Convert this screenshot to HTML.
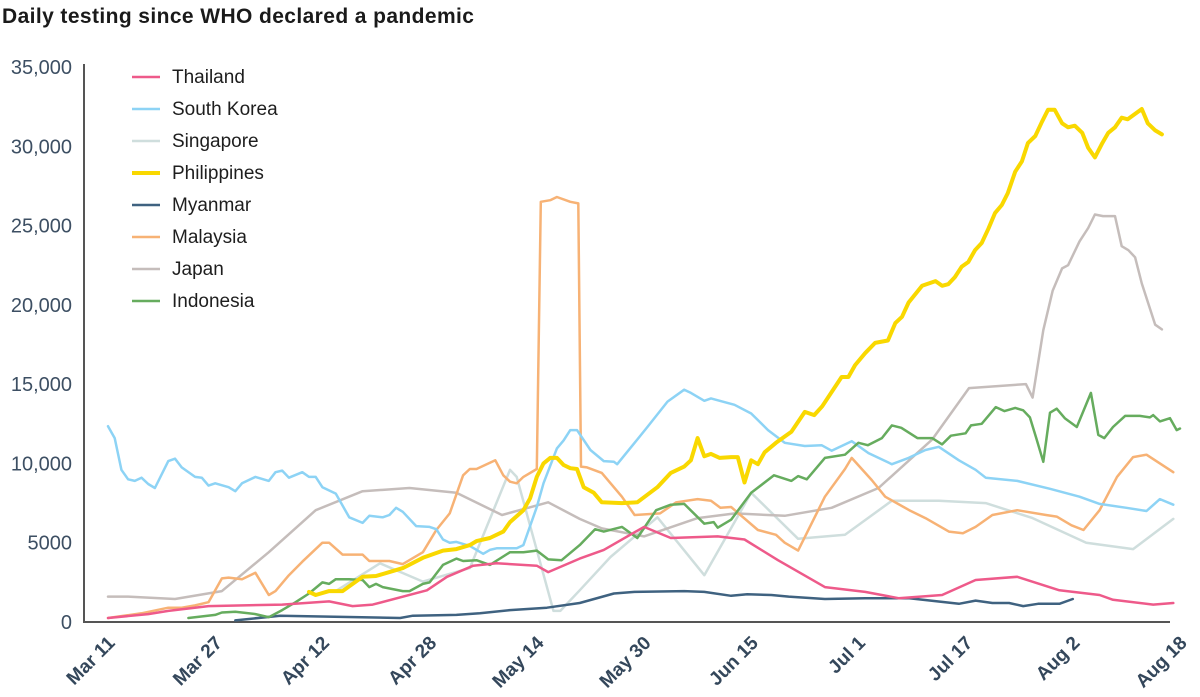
<!DOCTYPE html>
<html><head><meta charset="utf-8"><style>
body{margin:0;background:#fff;width:1200px;height:697px;overflow:hidden;font-family:"Liberation Sans",sans-serif}
svg{display:block}
</style></head><body>
<svg id="chart" width="1200" height="697">
<text x="2" y="23" font-size="21" font-weight="bold" fill="#1a1a1a" letter-spacing="0.4">Daily testing since WHO declared a pandemic</text>
<g id="axes"></g><g id="lines"></g><g id="legend"></g>
</svg>
<script>
const yTicks=[0,5000,10000,15000,20000,25000,30000,35000];
const yTickLabels=["0","5000","10,000","15,000","20,000","25,000","30,000","35,000"];
const xTickDays=[0,16,32,48,64,80,96,112,128,144,160];
const xTickLabels=["Mar 11","Mar 27","Apr 12","Apr 28","May 14","May 30","Jun 15","Jul 1","Jul 17","Aug 2","Aug 18"];
const seriesNames=["Thailand","South Korea","Singapore","Philippines","Myanmar","Malaysia","Japan","Indonesia"];
const seriesColors=["#ee5a8a","#8dd3f5","#cfdedd","#f9d800","#3f6280","#f7b275","#c5bdbb","#66ac5e"];

const thDays=[0,6,9,15,26,33,36.5,39.5,47.6,50.6,54.5,58,64,65.7,70.4,74,80,84,91,95,100,107,113,118,124.5,129.5,135.7,142,148,150,156,159];
const thVals=[250,500,700,1000,1100,1300,1000,1100,2000,2850,3550,3700,3550,3150,4000,4550,6000,5300,5400,5200,3900,2200,1900,1500,1700,2650,2850,2000,1700,1400,1100,1200];

const krDays=[0,1,2,3,4,5,6,7,9,10,11,13,14,15,16,18,19,20,22,24,25,26,27,29,30,31,32,34,36,38,39,41,42,43,44,46,48,49,50,51,52,54,56,57,58,61,62,64,65,67,68,69,70,72,74,75.5,76,78.6,80.5,83.5,86,87,89,90,93.5,96,98.5,101,104,106.5,108,111,113.5,117,119.5,122,124,127,129.5,131,135.7,140.6,145,148,152,155,157,159];
const krVals=[12350,11600,9600,9000,8900,9100,8700,8450,10150,10300,9750,9150,9100,8600,8750,8500,8250,8750,9150,8900,9450,9550,9100,9450,9150,9150,8500,8100,6600,6250,6700,6600,6750,7200,6950,6050,6000,5850,5200,5000,5050,4800,4300,4550,4650,4650,4850,7250,8750,10950,11450,12100,12100,10850,10150,10100,9950,11300,12300,13900,14650,14450,13950,14100,13700,13150,12100,11300,11100,11150,10800,11400,10650,9950,10350,10850,11050,10200,9600,9100,8900,8400,7900,7450,7200,7000,7750,7400];

const sgDays=[34,40.6,47,54,60,61,66.5,67.5,70.4,75,82,89,96,103,110,117,124,131,138,146,153,159];
const sgVals=[1950,3700,2550,3400,9600,9150,700,700,2000,4100,6600,2950,8150,5250,5500,7650,7650,7500,6550,5000,4600,6500];

const phDays=[30,31,33,35,38,40,42,44,47,50,52,54,55,57,59,60,62,63,64,65,66,67,68,69,70,71,72.5,73.7,76.7,79,82,84,86,87,88,89,90,91.3,93,94,95,96,97,98,99.7,102,104,105.4,106.6,109.5,110.5,111.5,113,114.5,116.4,117.5,118.5,119.5,121.5,123.5,124.5,125.4,126.4,127.4,128.4,129.4,130.4,131.4,132.4,133.4,134.3,135.4,136.4,137.3,138.4,139.4,140.3,141.3,142.4,143.3,144.3,145.4,146.3,147.3,148.4,149.3,150.3,151.3,152.2,154.3,155.2,156.3,157.3];
const phVals=[1900,1700,1950,1950,2850,2900,3150,3400,4050,4500,4600,4850,5100,5300,5700,6300,7050,7800,9150,10000,10350,10350,9900,9700,9650,8500,8150,7550,7500,7550,8500,9400,9800,10200,11600,10450,10600,10350,10400,10400,8800,10200,9950,10700,11300,12000,13250,13050,13600,15450,15450,16200,16950,17600,17750,18850,19250,20150,21200,21500,21200,21300,21750,22400,22700,23450,23900,24800,25800,26300,27050,28400,29050,30200,30650,31550,32300,32300,31450,31200,31300,30850,29900,29300,30200,30850,31200,31800,31700,32350,31450,31000,30750];

const mmDays=[19,25.7,43.6,45.5,52,55.5,60,65.5,70.4,75.5,78.6,86,89,93,95.4,99,101.6,107,113,119.6,127,129.5,132,134.5,136.6,138.8,142,144];
const mmVals=[100,400,250,400,450,550,750,900,1200,1800,1900,1950,1900,1650,1750,1700,1600,1450,1500,1500,1150,1350,1200,1200,1000,1150,1150,1450];

const myDays=[0,5,9,11,13,15,17,18,20,22,24,25,27,29,32,33,35,38,39,42,44,47,49,51,53,54,55,57.8,59,60,61,62,64,64.6,66,67,69,70.2,70.6,71.5,73.7,76.7,78.6,82.4,84.8,88,90,91.4,93,97,99.7,101,103,107,110,111,114,116,119.6,122,125.5,127.6,129.5,132,135.7,140,141.6,143.8,145.6,148,150.6,153,155,159];
const myVals=[250,550,900,900,1050,1250,2750,2800,2700,3100,1700,1950,2950,3800,5000,5000,4250,4250,3850,3850,3650,4400,5800,6850,9250,9650,9650,10200,9250,8850,8750,9150,9650,26500,26600,26800,26500,26400,9800,9750,9400,7900,6750,6850,7550,7750,7650,7200,7250,5800,5500,5000,4500,7900,9650,10350,8950,7900,7050,6550,5700,5600,6000,6750,7050,6750,6650,6100,5800,7050,9150,10400,10550,9450];

const jpDays=[0,3,10,17,24,31,38,45,52,58.8,65.7,70.4,73.7,80,88,93.6,101,108,115,123,128.5,137,138,139.6,141,142.4,143.3,145,146.3,147.3,148.5,150.3,151.3,152.3,153.3,154.3,156.3,157.3];
const jpVals=[1600,1600,1450,1950,4400,7050,8250,8450,8150,6750,7550,6500,5900,5400,6550,6850,6700,7200,8450,11500,14750,15000,14150,18400,20900,22300,22500,24000,24850,25700,25600,25600,23700,23450,23000,21350,18750,18450];

const idDays=[12,16,17,19,22,24,26,28,30,32,33,34,36,38,39,40,41,44,45,47,48,50,52,53,55,57,60,62,64,65.7,67.7,70.4,72.7,74,76.7,79,81.8,84,86,89,90.4,91,93,96,99.4,102,103,104.3,107,110,112,113.4,115.5,117,118.4,120.8,123,124.5,125.8,128,128.8,130.4,132.5,133.8,135.4,136.6,137.6,138.5,139.6,140.6,141.6,142.8,144.6,146.7,147.8,148.7,150,151.8,154,155.5,156,157,158.5,159.5,160];
const idVals=[250,450,600,650,500,300,750,1250,1800,2500,2400,2700,2700,2650,2200,2400,2200,1950,1950,2400,2500,3600,4000,3850,3900,3600,4400,4400,4500,3950,3900,4850,5850,5700,6000,5300,7050,7400,7450,6200,6300,5950,6450,8150,9250,8900,9200,9000,10350,10550,11300,11150,11600,12400,12250,11600,11600,11200,11750,11900,12400,12500,13550,13300,13500,13350,12900,11650,10100,13200,13450,12850,12300,14450,11800,11600,12300,13000,13000,12900,13050,12650,12850,12100,12200];

const seriesDays=[thDays,krDays,sgDays,phDays,mmDays,myDays,jpDays,idDays];
const seriesVals=[thVals,krVals,sgVals,phVals,mmVals,myVals,jpVals,idVals];

const NS="http://www.w3.org/2000/svg";
const X0=108,DAYPX=6.7,Y0=622,YPX=0.015857;
function xs(d){return X0+d*DAYPX;}
function ys(v){return Y0-v*YPX;}
function mk(tag,attrs,parent){const e=document.createElementNS(NS,tag);for(const k in attrs)e.setAttribute(k,attrs[k]);parent.appendChild(e);return e;}

const axes=document.getElementById('axes');
let yl=mk('line',{x1:84,y1:64,x2:84,y2:623,stroke:'#555','stroke-width':2},axes);


let xl=mk('line',{x1:83,y1:622,x2:1170,y2:622,stroke:'#555','stroke-width':2},axes);


yTicks.forEach((t,i)=>{
  const tx=mk('text',{x:72,y:ys(t)+7,'text-anchor':'end','font-size':20,fill:'#3d4f63'},axes);
  tx.textContent=yTickLabels[i];
  
  
});
xTickDays.forEach((d,i)=>{
  const x=xs(d)+8;
  const tx=mk('text',{x:x,y:644,'text-anchor':'end','font-size':19,'font-weight':'bold',fill:'#34475b',transform:`rotate(-45 ${x} 644)`},axes);
  tx.textContent=xTickLabels[i];
  
  
});

const lines=document.getElementById('lines');
const order=[2,6,4,5,1,7,0,3];
order.forEach(i=>{
  const pts=seriesDays[i].map((d,j)=>xs(d).toFixed(1)+','+ys(seriesVals[i][j]).toFixed(1)).join(' ');
  const p=mk('polyline',{points:pts,fill:'none',stroke:seriesColors[i],'stroke-width':i===3?4:2.5,'stroke-linejoin':'round','stroke-linecap':'round'},lines);
  
  
});

const lg=document.getElementById('legend');
seriesNames.forEach((n,i)=>{
  const y=77+i*32;
  const g=mk('g',{},lg);
  
  
  mk('line',{x1:132,y1:y,x2:160,y2:y,stroke:seriesColors[i],'stroke-width':i===3?4:2.5},g);
  const t=mk('text',{x:172,y:y+6,'font-size':19,fill:'#1e1e1e'},g);
  t.textContent=n;
});
</script>
</body></html>
